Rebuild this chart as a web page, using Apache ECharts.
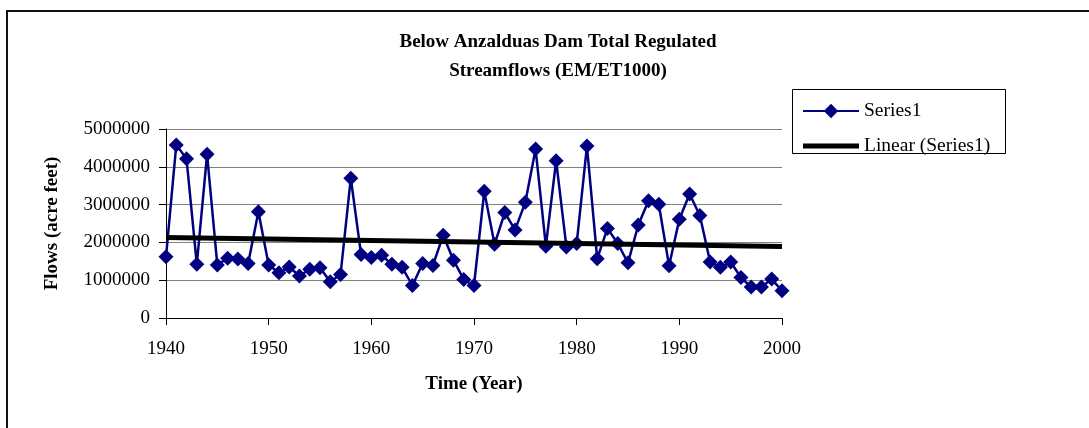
<!DOCTYPE html>
<html>
<head>
<meta charset="utf-8">
<title>Below Anzalduas Dam Total Regulated Streamflows</title>
<script src="https://cdn.jsdelivr.net/npm/echarts@6/dist/echarts.min.js"></script>
<style>
  html, body { margin: 0; padding: 0; background: #fff; }
  #chart { width: 1089px; height: 428px; }
</style>
</head>
<body>
<div id="chart"></div>
<script>
// Annual regulated streamflow below Anzalduas Dam, acre-feet per year
const years = [
  1940, 1941, 1942, 1943, 1944, 1945, 1946, 1947, 1948, 1949,
  1950, 1951, 1952, 1953, 1954, 1955, 1956, 1957, 1958, 1959,
  1960, 1961, 1962, 1963, 1964, 1965, 1966, 1967, 1968, 1969,
  1970, 1971, 1972, 1973, 1974, 1975, 1976, 1977, 1978, 1979,
  1980, 1981, 1982, 1983, 1984, 1985, 1986, 1987, 1988, 1989,
  1990, 1991, 1992, 1993, 1994, 1995, 1996, 1997, 1998, 1999,
  2000
];
const flows = [
  1620000, 4580000, 4210000, 1420000, 4330000, 1400000, 1580000, 1560000, 1440000, 2810000,
  1400000, 1200000, 1350000, 1110000, 1290000, 1330000, 960000, 1150000, 3700000, 1680000,
  1600000, 1660000, 1420000, 1340000, 860000, 1440000, 1390000, 2190000, 1530000, 1020000,
  860000, 3350000, 1950000, 2790000, 2330000, 3060000, 4470000, 1900000, 4160000, 1880000,
  1970000, 4550000, 1570000, 2370000, 1970000, 1460000, 2460000, 3100000, 3010000, 1380000,
  2610000, 3280000, 2710000, 1480000, 1340000, 1480000, 1070000, 820000, 820000, 1030000,
  720000
];
const seriesNames = ['Series1', 'Linear (Series1)'];
const titleLines = ['Below Anzalduas Dam Total Regulated', 'Streamflows (EM/ET1000)'];
const xAxisTitle = 'Time (Year)';
const yAxisTitle = 'Flows (acre feet)';

// Least-squares linear trend of the flows over the years
function linearTrend(xs, ys) {
  const n = xs.length;
  let sx = 0, sy = 0, sxx = 0, sxy = 0;
  for (let i = 0; i < n; i++) {
    sx += xs[i]; sy += ys[i];
    sxx += xs[i] * xs[i]; sxy += xs[i] * ys[i];
  }
  const slope = (n * sxy - sx * sy) / (n * sxx - sx * sx);
  const intercept = (sy - slope * sx) / n;
  return x => intercept + slope * x;
}
const trend = linearTrend(years, flows);
const x0 = years[0], x1 = years[years.length - 1];
const trendData = [[x0, trend(x0)], [x1, trend(x1)]];
const flowData = years.map((y, i) => [y, flows[i]]);

const serif = '"Liberation Serif", "Times New Roman", serif';
const chart = echarts.init(document.getElementById('chart'), null, { renderer: 'canvas' });

chart.setOption({
  backgroundColor: '#ffffff',
  animation: false,
  textStyle: { fontFamily: serif, color: '#000' },
  title: {
    text: titleLines.join('\n'),
    left: 553,
    top: 23,
    textAlign: 'center',
    textStyle: {
      fontFamily: serif, fontSize: 19, fontWeight: 'bold',
      color: '#000', lineHeight: 29
    }
  },
  legend: {
    data: [
      { name: seriesNames[0] },
      // plain thick bar for the trend entry
      { name: seriesNames[1], icon: 'path://M0,0L56,0L56,5L0,5Z' }
    ],
    orient: 'vertical',
    left: 797,
    top: 95,
    itemWidth: 56,
    itemHeight: 18,
    itemGap: 13,
    textStyle: { fontFamily: serif, fontSize: 19.5, color: '#000', lineHeight: 22 }
  },
  graphic: [
    {
      // outer chart frame
      type: 'rect',
      shape: { x: 7, y: 11, width: 1300, height: 700 },
      style: { fill: 'none', stroke: '#111', lineWidth: 2 },
      silent: true
    },
    {
      // legend frame
      type: 'rect',
      shape: { x: 792.5, y: 89.5, width: 213, height: 64 },
      style: { fill: 'none', stroke: '#000', lineWidth: 1 },
      silent: true
    }
  ],
  grid: { left: 166, right: 307, top: 129, bottom: 110, containLabel: false },
  xAxis: {
    type: 'value',
    min: 1940,
    max: 2000,
    interval: 10,
    name: xAxisTitle,
    nameLocation: 'middle',
    nameGap: 57,
    nameTextStyle: { fontFamily: serif, fontSize: 19, fontWeight: 'bold', color: '#000' },
    axisLine: { show: true, onZero: false, lineStyle: { color: '#000', width: 1 } },
    axisTick: { show: true, inside: false, length: 7, lineStyle: { color: '#000' } },
    axisLabel: {
      margin: 22, fontFamily: serif, fontSize: 19, color: '#000',
      formatter: v => String(v)
    },
    splitLine: { show: false }
  },
  yAxis: {
    type: 'value',
    min: 0,
    max: 5000000,
    interval: 1000000,
    name: yAxisTitle,
    nameLocation: 'middle',
    nameRotate: 90,
    nameGap: 104,
    nameTextStyle: { fontFamily: serif, fontSize: 19, fontWeight: 'bold', color: '#000' },
    axisLine: { show: true, lineStyle: { color: '#000', width: 1 } },
    axisTick: { show: true, inside: false, length: 7, lineStyle: { color: '#000' } },
    axisLabel: {
      margin: 16, fontFamily: serif, fontSize: 19, color: '#000',
      formatter: v => String(v)
    },
    splitLine: { show: true, lineStyle: { color: '#808080', width: 1 } }
  },
  series: [
    {
      name: seriesNames[0],
      type: 'line',
      data: flowData,
      symbol: 'diamond',
      symbolSize: 15,
      showAllSymbol: true,
      lineStyle: { color: '#000080', width: 2.5 },
      itemStyle: { color: '#000080' },
      z: 2
    },
    {
      name: seriesNames[1],
      type: 'line',
      data: trendData,
      symbol: 'none',
      lineStyle: { color: '#000', width: 5 },
      itemStyle: { color: '#000' },
      z: 3
    }
  ]
});
</script>
</body>
</html>
